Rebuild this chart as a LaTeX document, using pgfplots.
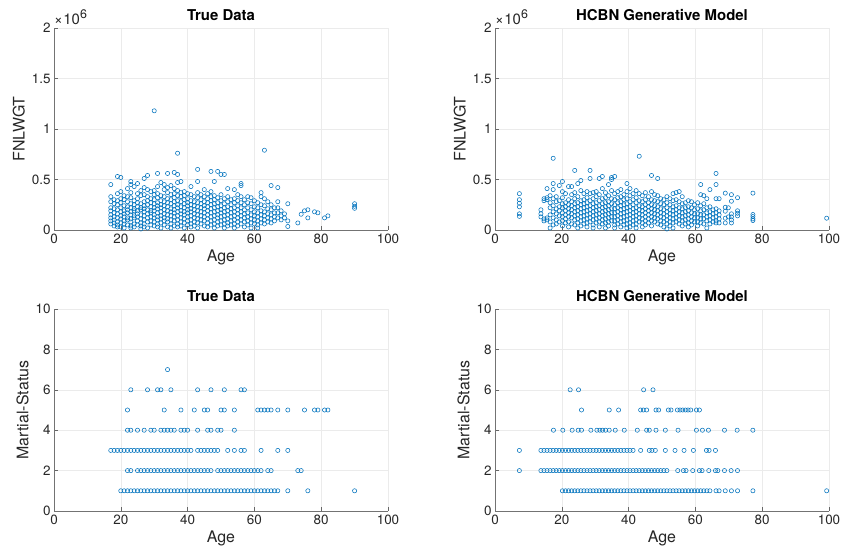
\documentclass[border=0pt]{standalone}
\usepackage{pgfplots}
\pgfplotsset{compat=1.18}
\usepackage{fontspec}
\setmainfont{TeX Gyre Heros}
\definecolor{mblue}{rgb}{0,0.447,0.741}
\definecolor{mgray}{rgb}{0.15,0.15,0.15}
\newcommand\xsix{{\fontsize{15}{17}\selectfont ×\hspace{0.5bp}10\raisebox{6bp}{\fontsize{12.5}{14}\selectfont 6}}}
\pgfplotsset{
 mstyle/.style={
  scale only axis, width=334bp, height=202bp, anchor=south west,
  axis x line=bottom, axis y line=left,
  axis line style={-, draw=black!55, line width=0.6bp},
  x axis line style={-}, y axis line style={-},
  tick align=inside, major tick length=4bp,
  tick style={black!60, line width=0.5bp},
  grid=major, grid style={black!8, line width=0.5bp},
  xmin=0, xmax=100, xtick={0,20,40,60,80,100},
  tick label style={font=\fontsize{13.5}{15}\selectfont, text=mgray},
  label style={font=\fontsize{16}{18}\selectfont, text=mgray},
  title style={font=\bfseries\fontsize{15}{17}\selectfont, yshift=-2bp},
  /pgf/number format/assume math mode=true,
  clip=false,
  xlabel={Age},
 },
 mk/.style={only marks, mark=o, mark size=2.1bp, mark options={draw=mblue, line width=0.55bp}},
 topy/.style={ymin=0, ymax=2, ytick={0,0.5,1,1.5,2}, yticklabels={0,0.5,1,1.5,2}, ylabel={FNLWGT}},
 boty/.style={ymin=0, ymax=10, ytick={0,2,4,6,8,10}, ylabel={Martial-Status}},
}
\begin{document}
\begin{tikzpicture}
\useasboundingbox (0,0) rectangle (842bp,550bp);
% ---------------- top left
\begin{axis}[mstyle, topy, at={(54bp,320bp)}, title={True Data}]
\addplot[mk] coordinates {
(17,.45)(17,.33)(17,.28)(17,.22)(17,.19)(17,.15)(17,.12)(17,.09)(17,.06)
(18,.30)(18,.26)(18,.21)(18,.17)(18,.13)(18,.10)(18,.07)(18,.04)
(19,.53)(19,.36)(19,.29)(19,.25)(19,.20)(19,.16)(19,.12)(19,.08)(19,.05)(19,.03)
(20,.52)(20,.38)(20,.31)(20,.27)(20,.22)(20,.18)(20,.14)(20,.11)(20,.07)(20,.03)
(21,.34)(21,.30)(21,.24)(21,.19)(21,.16)(21,.13)(21,.09)(21,.06)(21,.02)
(22,.41)(22,.33)(22,.28)(22,.23)(22,.20)(22,.17)(22,.12)(22,.10)(22,.05)
(23,.48)(23,.45)(23,.37)(23,.32)(23,.26)(23,.22)(23,.18)(23,.15)(23,.11)(23,.08)(23,.04)(23,.02)
(24,.43)(24,.29)(24,.25)(24,.21)(24,.19)(24,.14)(24,.12)(24,.06)(24,.03)
(25,.46)(25,.36)(25,.31)(25,.27)(25,.23)(25,.19)(25,.16)(25,.13)(25,.09)(25,.05)
(26,.39)(26,.34)(26,.26)(26,.22)(26,.20)(26,.15)(26,.11)(26,.07)(26,.04)(26,.01)
(27,.51)(27,.42)(27,.35)(27,.28)(27,.24)(27,.21)(27,.18)(27,.14)(27,.10)(27,.06)(27,.03)
(28,.54)(28,.40)(28,.33)(28,.29)(28,.25)(28,.20)(28,.16)(28,.12)(28,.08)(28,.02)
(29,.38)(29,.31)(29,.27)(29,.23)(29,.19)(29,.17)(29,.13)(29,.09)(29,.05)
(30,1.18)(30,.39)(30,.35)(30,.30)(30,.26)(30,.22)(30,.19)(30,.15)(30,.12)(30,.08)(30,.04)
(31,.56)(31,.43)(31,.36)(31,.32)(31,.27)(31,.24)(31,.21)(31,.17)(31,.13)(31,.10)(31,.06)(31,.03)
(32,.47)(32,.34)(32,.29)(32,.25)(32,.22)(32,.18)(32,.14)(32,.11)(32,.07)(32,.02)
(33,.45)(33,.40)(33,.33)(33,.28)(33,.24)(33,.20)(33,.16)(33,.12)(33,.09)(33,.05)
(34,.56)(34,.42)(34,.37)(34,.31)(34,.27)(34,.23)(34,.19)(34,.15)(34,.11)(34,.08)(34,.03)
(35,.44)(35,.35)(35,.30)(35,.26)(35,.21)(35,.18)(35,.14)(35,.10)(35,.06)(35,.02)
(36,.57)(36,.41)(36,.36)(36,.32)(36,.28)(36,.24)(36,.20)(36,.17)(36,.13)(36,.09)(36,.04)
(37,.76)(37,.55)(37,.47)(37,.39)(37,.34)(37,.29)(37,.25)(37,.22)(37,.18)(37,.14)(37,.10)(37,.06)(37,.03)
(38,.48)(38,.37)(38,.33)(38,.28)(38,.23)(38,.19)(38,.16)(38,.12)(38,.08)(38,.04)
(39,.38)(39,.34)(39,.30)(39,.26)(39,.22)(39,.18)(39,.15)(39,.11)(39,.07)(39,.02)
(40,.36)(40,.31)(40,.27)(40,.24)(40,.20)(40,.17)(40,.13)(40,.09)(40,.05)
(41,.43)(41,.35)(41,.29)(41,.25)(41,.21)(41,.18)(41,.14)(41,.10)(41,.06)(41,.03)
(42,.33)(42,.28)(42,.24)(42,.20)(42,.16)(42,.12)(42,.08)(42,.04)
(43,.60)(43,.48)(43,.37)(43,.32)(43,.27)(43,.23)(43,.19)(43,.15)(43,.11)(43,.07)(43,.02)
(44,.35)(44,.30)(44,.26)(44,.22)(44,.18)(44,.14)(44,.10)(44,.06)
(45,.40)(45,.33)(45,.28)(45,.24)(45,.21)(45,.17)(45,.13)(45,.09)(45,.04)
(46,.36)(46,.31)(46,.27)(46,.23)(46,.19)(46,.15)(46,.11)(46,.07)(46,.03)
(47,.58)(47,.38)(47,.33)(47,.29)(47,.25)(47,.21)(47,.17)(47,.13)(47,.09)(47,.05)
(48,.48)(48,.34)(48,.30)(48,.26)(48,.22)(48,.18)(48,.14)(48,.10)(48,.06)(48,.02)
(49,.58)(49,.32)(49,.27)(49,.23)(49,.19)(49,.15)(49,.12)(49,.08)(49,.04)
(50,.55)(50,.35)(50,.29)(50,.24)(50,.20)(50,.17)(50,.13)(50,.09)(50,.05)
(51,.55)(51,.31)(51,.26)(51,.22)(51,.18)(51,.14)(51,.10)(51,.06)(51,.02)
(52,.41)(52,.33)(52,.28)(52,.23)(52,.19)(52,.15)(52,.11)(52,.07)(52,.04)
(53,.30)(53,.25)(53,.21)(53,.17)(53,.13)(53,.09)(53,.05)
(54,.40)(54,.31)(54,.27)(54,.22)(54,.18)(54,.14)(54,.10)(54,.06)(54,.02)
(55,.35)(55,.29)(55,.24)(55,.20)(55,.16)(55,.12)(55,.08)(55,.04)
(56,.46)(56,.44)(56,.33)(56,.27)(56,.22)(56,.18)(56,.14)(56,.10)(56,.06)
(57,.30)(57,.25)(57,.20)(57,.16)(57,.12)(57,.08)(57,.03)
(58,.33)(58,.27)(58,.22)(58,.17)(58,.13)(58,.09)(58,.05)
(59,.32)(59,.26)(59,.20)(59,.15)(59,.11)(59,.07)(59,.02)
(60,.29)(60,.23)(60,.18)(60,.14)(60,.10)(60,.06)
(61,.27)(61,.22)(61,.17)(61,.13)(61,.09)(61,.05)(61,.02)
(62,.37)(62,.33)(62,.25)(62,.19)(62,.15)(62,.11)(62,.07)
(63,.79)(63,.31)(63,.24)(63,.18)(63,.14)(63,.10)(63,.06)
(64,.28)(64,.21)(64,.16)(64,.12)(64,.08)
(65,.44)(65,.25)(65,.20)(65,.15)(65,.11)(65,.07)
(66,.22)(66,.17)(66,.13)(66,.09)
(67,.42)(67,.28)(67,.22)(67,.17)(67,.12)
(68,.19)(68,.14)(68,.10)
(69,.16)(69,.12)
(70,.26)(70,.09)(70,.035)
(73,.07)(74,.156)(75,.19)(76,.20)(76,.12)(78,.18)(79,.17)(81,.12)(82,.14)
(90,.26)(90,.235)(90,.215)
};
\node[anchor=south west, inner sep=0, text=mgray] at (rel axis cs:0,1) [xshift=0bp, yshift=3.5bp] {\xsix};
\end{axis}
% ---------------- top right
\begin{axis}[mstyle, topy, at={(495bp,320bp)}, title={HCBN Generative Model}]
\addplot[mk] coordinates {
(7.30,.36)(7.30,.30)(7.30,.265)(7.30,.23)(7.30,.16)(7.30,.135)
(13.74,.20)(13.74,.16)(13.74,.13)
(14.66,.31)(14.66,.29)(14.66,.11)(14.66,.09)
(15.58,.41)(15.58,.32)(15.58,.30)(15.58,.12)(15.58,.10)
(16.50,.34)(16.50,.27)(16.50,.22)(16.50,.15)(16.50,.08)(16.50,.02)
(17.42,.71)(17.42,.46)(17.42,.40)(17.42,.31)(17.42,.24)(17.42,.18)(17.42,.12)(17.42,.05)
(18.34,.33)(18.34,.28)(18.34,.21)(18.34,.16)(18.34,.10)(18.34,.06)
(19.26,.44)(19.26,.29)(19.26,.23)(19.26,.19)(19.26,.14)(19.26,.08)
(20.18,.48)(20.18,.38)(20.18,.32)(20.18,.26)(20.18,.22)(20.18,.17)(20.18,.13)(20.18,.09)(20.18,.04)
(21.10,.36)(21.10,.27)(21.10,.23)(21.10,.19)(21.10,.15)(21.10,.11)(21.10,.07)
(22.02,.43)(22.02,.30)(22.02,.25)(22.02,.21)(22.02,.17)(22.02,.13)(22.02,.08)(22.02,.03)
(22.94,.43)(22.94,.35)(22.94,.28)(22.94,.24)(22.94,.20)(22.94,.16)(22.94,.12)(22.94,.06)
(23.86,.59)(23.86,.37)(23.86,.31)(23.86,.26)(23.86,.22)(23.86,.18)(23.86,.14)(23.86,.10)(23.86,.05)
(24.78,.46)(24.78,.33)(24.78,.27)(24.78,.23)(24.78,.19)(24.78,.15)(24.78,.11)(24.78,.07)(24.78,.02)
(25.70,.49)(25.70,.39)(25.70,.29)(25.70,.25)(25.70,.21)(25.70,.17)(25.70,.13)(25.70,.09)(25.70,.04)
(26.62,.36)(26.62,.30)(26.62,.26)(26.62,.22)(26.62,.18)(26.62,.14)(26.62,.10)(26.62,.06)
(27.54,.38)(27.54,.32)(27.54,.27)(27.54,.23)(27.54,.19)(27.54,.15)(27.54,.11)(27.54,.07)(27.54,.03)
(28.46,.59)(28.46,.51)(28.46,.36)(28.46,.29)(28.46,.24)(28.46,.20)(28.46,.16)(28.46,.12)(28.46,.08)
(29.38,.37)(29.38,.31)(29.38,.26)(29.38,.22)(29.38,.18)(29.38,.14)(29.38,.10)(29.38,.05)(29.38,.02)
(30.30,.38)(30.30,.33)(30.30,.27)(30.30,.23)(30.30,.19)(30.30,.15)(30.30,.11)(30.30,.07)
(31.22,.51)(31.22,.35)(31.22,.29)(31.22,.24)(31.22,.20)(31.22,.16)(31.22,.12)(31.22,.08)(31.22,.03)
(32.14,.53)(32.14,.41)(32.14,.31)(32.14,.26)(32.14,.22)(32.14,.18)(32.14,.14)(32.14,.10)(32.14,.06)
(33.06,.37)(33.06,.32)(33.06,.27)(33.06,.23)(33.06,.19)(33.06,.15)(33.06,.11)(33.06,.07)(33.06,.02)
(33.98,.45)(33.98,.34)(33.98,.28)(33.98,.24)(33.98,.20)(33.98,.16)(33.98,.12)(33.98,.08)(33.98,.04)
(34.90,.52)(34.90,.50)(34.90,.39)(34.90,.31)(34.90,.26)(34.90,.21)(34.90,.17)(34.90,.13)(34.90,.09)
(35.82,.53)(35.82,.36)(35.82,.30)(35.82,.25)(35.82,.21)(35.82,.17)(35.82,.13)(35.82,.09)(35.82,.05)(35.82,.02)
(36.74,.38)(36.74,.32)(36.74,.27)(36.74,.22)(36.74,.18)(36.74,.14)(36.74,.10)(36.74,.06)
(37.66,.40)(37.66,.33)(37.66,.28)(37.66,.24)(37.66,.20)(37.66,.16)(37.66,.12)(37.66,.08)(37.66,.03)
(38.58,.35)(38.58,.30)(38.58,.25)(38.58,.21)(38.58,.17)(38.58,.13)(38.58,.09)(38.58,.05)
(39.50,.46)(39.50,.38)(39.50,.31)(39.50,.26)(39.50,.22)(39.50,.18)(39.50,.14)(39.50,.10)(39.50,.06)(39.50,.02)
(40.42,.41)(40.42,.34)(40.42,.28)(40.42,.23)(40.42,.19)(40.42,.15)(40.42,.11)(40.42,.07)(40.42,.03)
(41.34,.36)(41.34,.30)(41.34,.25)(41.34,.21)(41.34,.17)(41.34,.13)(41.34,.09)(41.34,.05)
(42.26,.39)(42.26,.32)(42.26,.27)(42.26,.22)(42.26,.18)(42.26,.14)(42.26,.10)(42.26,.06)(42.26,.02)
(43.18,.73)(43.18,.36)(43.18,.29)(43.18,.24)(43.18,.20)(43.18,.16)(43.18,.12)(43.18,.08)
(44.10,.34)(44.10,.28)(44.10,.23)(44.10,.19)(44.10,.15)(44.10,.11)(44.10,.07)(44.10,.03)
(45.02,.37)(45.02,.30)(45.02,.25)(45.02,.21)(45.02,.17)(45.02,.13)(45.02,.09)(45.02,.05)
(45.94,.33)(45.94,.27)(45.94,.23)(45.94,.19)(45.94,.15)(45.94,.11)(45.94,.07)
(46.86,.54)(46.86,.38)(46.86,.30)(46.86,.25)(46.86,.21)(46.86,.17)(46.86,.13)(46.86,.09)(46.86,.04)
(47.78,.35)(47.78,.29)(47.78,.24)(47.78,.20)(47.78,.16)(47.78,.12)(47.78,.08)
(48.70,.51)(48.70,.34)(48.70,.28)(48.70,.23)(48.70,.19)(48.70,.15)(48.70,.11)(48.70,.06)
(49.62,.31)(49.62,.26)(49.62,.21)(49.62,.17)(49.62,.13)(49.62,.09)(49.62,.05)
(50.54,.30)(50.54,.25)(50.54,.20)(50.54,.16)(50.54,.12)(50.54,.08)(50.54,.03)
(51.46,.33)(51.46,.27)(51.46,.22)(51.46,.18)(51.46,.14)(51.46,.10)(51.46,.06)(51.46,.01)
(52.38,.31)(52.38,.25)(52.38,.20)(52.38,.16)(52.38,.12)(52.38,.08)(52.38,.04)
(53.30,.36)(53.30,.29)(53.30,.23)(53.30,.19)(53.30,.15)(53.30,.11)(53.30,.07)(53.30,.02)
(54.22,.37)(54.22,.30)(54.22,.24)(54.22,.20)(54.22,.16)(54.22,.12)(54.22,.08)
(55.14,.38)(55.14,.28)(55.14,.22)(55.14,.18)(55.14,.14)(55.14,.10)(55.14,.06)
(56.06,.33)(56.06,.26)(56.06,.21)(56.06,.17)(56.06,.13)(56.06,.09)(56.06,.04)
(56.98,.27)(56.98,.22)(56.98,.18)(56.98,.14)(56.98,.10)(56.98,.06)
(57.90,.29)(57.90,.23)(57.90,.19)(57.90,.15)(57.90,.11)(57.90,.07)(57.90,.03)
(58.82,.28)(58.82,.22)(58.82,.17)(58.82,.13)(58.82,.09)(58.82,.05)
(59.74,.25)(59.74,.20)(59.74,.16)(59.74,.12)(59.74,.08)
(60.66,.27)(60.66,.21)(60.66,.16)(60.66,.12)(60.66,.08)(60.66,.04)
(61.58,.45)(61.58,.35)(61.58,.24)(61.58,.19)(61.58,.15)(61.58,.11)(61.58,.07)
(62.50,.34)(62.50,.26)(62.50,.20)(62.50,.15)(62.50,.11)(62.50,.06)
(63.42,.31)(63.42,.22)(63.42,.17)(63.42,.13)(63.42,.09)(63.42,.02)
(64.34,.40)(64.34,.23)(64.34,.18)(64.34,.14)(64.34,.10)(64.34,.06)
(65.26,.20)(65.26,.16)(65.26,.12)(65.26,.08)
(66.18,.56)(66.18,.45)(66.18,.31)(66.18,.21)(66.18,.17)(66.18,.13)(66.18,.09)(66.18,.07)
(67.10,.31)(67.10,.19)(67.10,.15)(67.10,.11)(67.10,.07)
(68.94,.365)(68.94,.225)(68.94,.186)(68.94,.117)(68.94,.07)
(69.86,.22)(69.86,.13)
(70.78,.35)(70.78,.285)(70.78,.16)(70.78,.13)(70.78,.10)(70.78,.07)
(72.62,.32)(72.62,.19)(72.62,.166)(72.62,.14)
(77.22,.365)(77.22,.153)(77.22,.133)(77.22,.11)(77.22,.094)
(99.30,.117)
};
\node[anchor=south west, inner sep=0, text=mgray] at (rel axis cs:0,1) [xshift=0bp, yshift=3.5bp] {\xsix};
\end{axis}
% ---------------- bottom left
\begin{axis}[mstyle, boty, at={(54bp,39bp)}, title={True Data}]
\addplot[mk] coordinates {
(20,1)(21,1)(22,1)(23,1)(24,1)(25,1)(26,1)(27,1)(28,1)(29,1)(30,1)(31,1)(32,1)(33,1)(34,1)(35,1)
(36,1)(37,1)(38,1)(39,1)(40,1)(41,1)(42,1)(43,1)(44,1)(45,1)(46,1)(47,1)(48,1)(49,1)(50,1)(51,1)
(52,1)(53,1)(54,1)(55,1)(56,1)(57,1)(58,1)(59,1)(60,1)(61,1)(62,1)(63,1)(64,1)(65,1)(66,1)(67,1)
(70,1)(76,1)(90,1)
(22,2)(23,2)(25,2)(26,2)(27,2)(28,2)(29,2)(30,2)(31,2)(32,2)(33,2)(34,2)(35,2)(36,2)(37,2)(38,2)
(39,2)(40,2)(41,2)(42,2)(43,2)(44,2)(45,2)(46,2)(47,2)(49,2)(50,2)(51,2)(52,2)(53,2)(54,2)(55,2)
(56,2)(57,2)(58,2)(59,2)(60,2)(61,2)(62,2)(64,2)(65,2)(73,2)(74,2)
(17,3)(18,3)(19,3)(20,3)(21,3)(22,3)(23,3)(24,3)(25,3)(26,3)(27,3)(28,3)(29,3)(30,3)(31,3)(32,3)
(33,3)(34,3)(35,3)(36,3)(37,3)(38,3)(39,3)(40,3)(41,3)(43,3)(44,3)(45,3)(46,3)(47,3)(48,3)(49,3)
(52,3)(54,3)(56,3)(57,3)(62,3)(67,3)(70,3)
(22,4)(23,4)(25,4)(27,4)(29,4)(30,4)(32,4)(33,4)(34,4)(35,4)(36,4)(38,4)(39,4)(40,4)(43,4)(46,4)
(47,4)(49,4)(50,4)(54,4)
(22,5)(33,5)(38,5)(42,5)(45,5)(46,5)(50,5)(51,5)(54,5)(61,5)(62,5)(63,5)(64,5)(65,5)(67,5)(70,5)
(75,5)(78,5)(79,5)(81,5)(82,5)
(23,6)(28,6)(31,6)(32,6)(35,6)(43,6)(47,6)(51,6)(56,6)(57,6)
(34,7)
};
\end{axis}
% ---------------- bottom right
\begin{axis}[mstyle, boty, at={(495bp,39bp)}, title={HCBN Generative Model}]
\addplot[mk] coordinates {
(20.18,1)(21.10,1)(22.02,1)(22.94,1)(23.86,1)(24.78,1)(25.70,1)(26.62,1)(27.54,1)(28.46,1)
(29.38,1)(30.30,1)(31.22,1)(32.14,1)(33.06,1)(33.98,1)(34.90,1)(35.82,1)(36.74,1)(37.66,1)
(38.58,1)(39.50,1)(40.42,1)(41.34,1)(42.26,1)(43.18,1)(44.10,1)(45.02,1)(45.94,1)(46.86,1)
(47.78,1)(48.70,1)(49.62,1)(50.54,1)(51.46,1)(52.38,1)(53.30,1)(54.22,1)(55.14,1)(56.06,1)
(56.98,1)(57.90,1)(58.82,1)(59.74,1)(60.66,1)(61.58,1)(62.50,1)(63.42,1)(64.34,1)
(66.18,1)(67.10,1)(68.94,1)(70.78,1)(72.62,1)(77.22,1)(99.30,1)
(7.30,2)(13.74,2)(14.66,2)(15.58,2)(16.50,2)(17.42,2)(18.34,2)(19.26,2)(20.18,2)(21.10,2)
(22.02,2)(22.94,2)(23.86,2)(24.78,2)(25.70,2)(26.62,2)(27.54,2)(28.46,2)(29.38,2)(30.30,2)
(31.22,2)(32.14,2)(33.06,2)(33.98,2)(34.90,2)(35.82,2)(36.74,2)(37.66,2)(38.58,2)(39.50,2)
(40.42,2)(41.34,2)(42.26,2)(43.18,2)(44.10,2)(45.02,2)(45.94,2)(46.86,2)(47.78,2)(48.70,2)
(49.62,2)(50.54,2)(51.46,2)
(54.7,2)(56.4,2)(57.2,2)(59.2,2)(61.2,2)(62.0,2)(64.0,2)(66.0,2)(66.7,2)(68.7,2)(70.7,2)(72.6,2)
(7.30,3)(13.74,3)(14.66,3)(15.58,3)(16.50,3)(17.42,3)(18.34,3)(19.26,3)(20.18,3)(21.10,3)
(22.02,3)(22.94,3)(23.86,3)(24.78,3)(25.70,3)(26.62,3)(27.54,3)(28.46,3)(29.38,3)(30.30,3)
(31.22,3)(32.14,3)(33.06,3)(33.98,3)(34.90,3)(35.82,3)(36.74,3)(37.66,3)(38.58,3)(39.50,3)
(40.42,3)(41.34,3)
(43.6,3)(46.2,3)(47.0,3)(48.0,3)(51.0,3)(53.9,3)(56.6,3)(59.4,3)(63.3,3)(64.1,3)(66.0,3)
(17.5,4)(20.3,4)(23.1,4)(24.9,4)(25.9,4)(28.7,4)(30.5,4)(31.4,4)(32.2,4)(33.1,4)(34.2,4)(36.0,4)
(38.7,4)(42.6,4)(45.4,4)(46.2,4)(48.2,4)(51.0,4)(54.8,4)(60.3,4)(62.1,4)(63.9,4)(68.7,4)(72.5,4)(77.2,4)
(25.9,5)(34.2,5)(37.0,5)(43.6,5)(44.4,5)(45.4,5)(48.2,5)(49.0,5)(51.9,5)(52.7,5)(54.6,5)(55.4,5)
(56.2,5)(57.0,5)(57.8,5)(58.6,5)(60.3,5)(61.2,5)
(22.5,6)(25.0,6)(44.5,6)(47.3,6)
};
\end{axis}
\end{tikzpicture}
\end{document}
